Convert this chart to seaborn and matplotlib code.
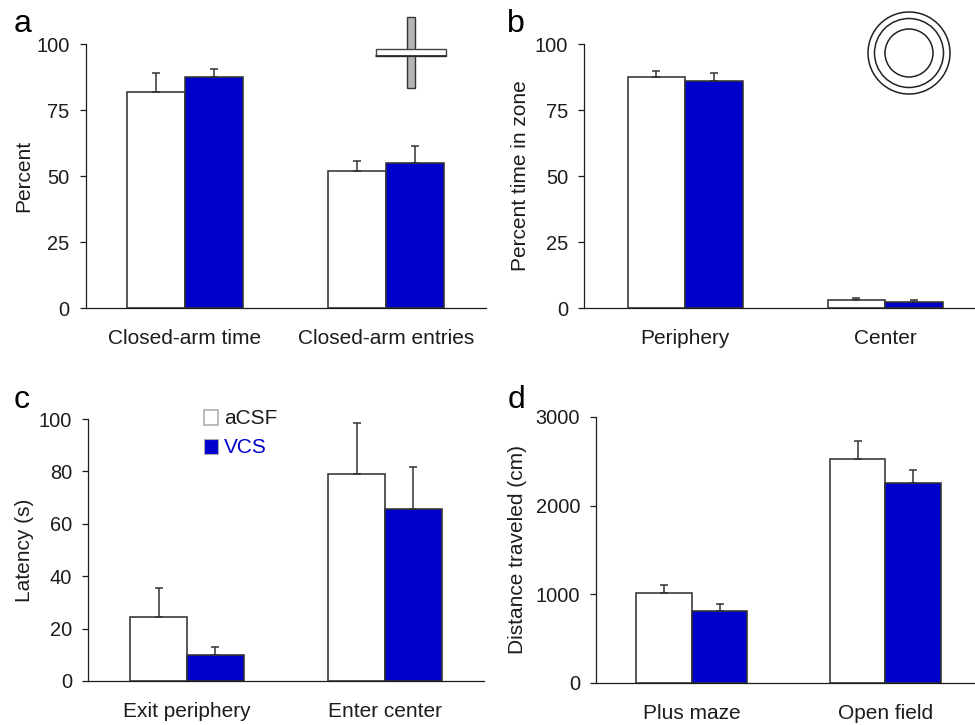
import numpy as np
import pandas as pd
import seaborn as sns
from matplotlib import pyplot as plt
from matplotlib.patches import Circle, Rectangle

groups = ['aCSF', 'VCS']

a_labels = ['Closed-arm time', 'Closed-arm entries']
a_acsf = [82, 52]
a_vcs = [87.5, 55]
a_acsf_err = [7, 3.5]
a_vcs_err = [3, 6.5]

b_labels = ['Periphery', 'Center']
b_acsf = [87.5, 3.2]
b_vcs = [86, 2.3]
b_acsf_err = [2.2, 0.7]
b_vcs_err = [3, 0.8]

c_labels = ['Exit periphery', 'Enter center']
c_acsf = [24.5, 79]
c_vcs = [10, 65.5]
c_acsf_err = [11, 19.5]
c_vcs_err = [3, 16]

d_labels = ['Plus maze', 'Open field']
d_acsf = [1010, 2530]
d_vcs = [810, 2260]
d_acsf_err = [100, 200]
d_vcs_err = [80, 145]

WIDTH, HEIGHT = 975, 725
BLUE = '#0000cd'
DARK = '#1c1c1c'


def axes_box(left, right, top, bottom):
    return [left / WIDTH, 1 - bottom / HEIGHT, (right - left) / WIDTH, (bottom - top) / HEIGHT]


def draw_panel(fig, box, letter, letter_xy, labels, acsf, vcs, acsf_err, vcs_err,
               ylabel, ylim, yticks, xlim, ylabel_x):
    ax = fig.add_axes(axes_box(*box))
    df = pd.DataFrame({
        'label': labels * 2,
        'group': groups[0:1] * 2 + groups[1:] * 2,
        'value': acsf + vcs,
    })
    sns.barplot(data=df, x='label', y='value', hue='group', order=labels, hue_order=groups,
                palette={'aCSF': 'white', 'VCS': BLUE}, width=0.575, legend=False, saturation=1,
                edgecolor='#333333', linewidth=1.15, ax=ax, errorbar=None)
    for container, err in zip(ax.containers, [acsf_err, vcs_err]):
        for bar, e in zip(container, err):
            x = bar.get_x() + bar.get_width() / 2
            y = bar.get_height()
            ax.errorbar(x, y, yerr=[[0], [e]], color='#333333', capsize=3.2, lw=1.1, capthick=1.1, zorder=1)
    ax.set_xlim(*xlim)
    ax.set_ylim(*ylim)
    ax.set_yticks(yticks)
    ax.tick_params(axis='y', left=True, length=4.5, width=0.9, labelsize=14.4, pad=7,
                   color=DARK, labelcolor=DARK)
    ax.tick_params(axis='x', length=0, labelsize=15, pad=15, labelcolor=DARK)
    ax.set_xlabel('')
    ax.set_ylabel(ylabel, fontsize=15, color=DARK)
    ax.yaxis.set_label_coords((ylabel_x - box[0]) / (box[1] - box[0]), 0.5)
    sns.despine(ax=ax)
    for side in ['left', 'bottom']:
        ax.spines[side].set_linewidth(0.9)
        ax.spines[side].set_color(DARK)
    fig.text(letter_xy[0] / WIDTH, 1 - letter_xy[1] / HEIGHT, letter, fontsize=23, va='baseline', color='black')
    return ax


sns.set_theme(style='white')
plt.rcParams['font.family'] = ['Liberation Sans', 'DejaVu Sans']

fig = plt.figure(figsize=(WIDTH / 100, HEIGHT / 100), dpi=100)

draw_panel(fig, (85.5, 486, 44, 308), 'a', (14, 32), a_labels, a_acsf, a_vcs, a_acsf_err, a_vcs_err,
           'Percent', (0, 100), [0, 25, 50, 75, 100], (-0.495, 1.4975), 33)
draw_panel(fig, (584, 975, 44, 308), 'b', (507, 32), b_labels, b_acsf, b_vcs, b_acsf_err, b_vcs_err,
           'Percent time in zone', (0, 100), [0, 25, 50, 75, 100], (-0.505, 1.45), 530)
draw_panel(fig, (88, 484, 419, 681), 'c', (14, 408), c_labels, c_acsf, c_vcs, c_acsf_err, c_vcs_err,
           'Latency (s)', (0, 100), [0, 20, 40, 60, 80, 100], (-0.5, 1.5), 34)
draw_panel(fig, (596, 975, 417, 683), 'd', (508, 408), d_labels, d_acsf, d_vcs, d_acsf_err, d_vcs_err,
           'Distance traveled (cm)', (0, 3000), [0, 1000, 2000, 3000], (-0.494, 1.462), 527)

# overlay for the maze icons and the hand made legend, in pixel coords
overlay = fig.add_axes([0, 0, 1, 1], zorder=5)
overlay.set_xlim(0, WIDTH)
overlay.set_ylim(HEIGHT, 0)
overlay.axis('off')

overlay.add_patch(Rectangle((407, 17), 7.5, 71, facecolor='#b5b5b5', edgecolor='#333333', lw=1.0))
overlay.add_patch(Rectangle((375.5, 48.5), 70, 7.5, facecolor='white', edgecolor='#444444', lw=1.0))
overlay.plot([375.5, 445.5], [56, 56], color='#222222', lw=1.2)
for r in [41, 34.5, 24]:
    overlay.add_patch(Circle((909, 53), r, facecolor='none', edgecolor='#222222', lw=1.1))

overlay.add_patch(Rectangle((204, 410), 14, 15, facecolor='white', edgecolor='#aaaaaa', lw=1.1))
overlay.add_patch(Rectangle((204, 439), 14, 15, facecolor=BLUE, edgecolor='#aaaaaa', lw=0.8))
overlay.text(224, 418, 'aCSF', fontsize=15, va='center', color=DARK)
overlay.text(224, 447, 'VCS', fontsize=15, va='center', color=BLUE)

fig.savefig('out.png', dpi=100)
